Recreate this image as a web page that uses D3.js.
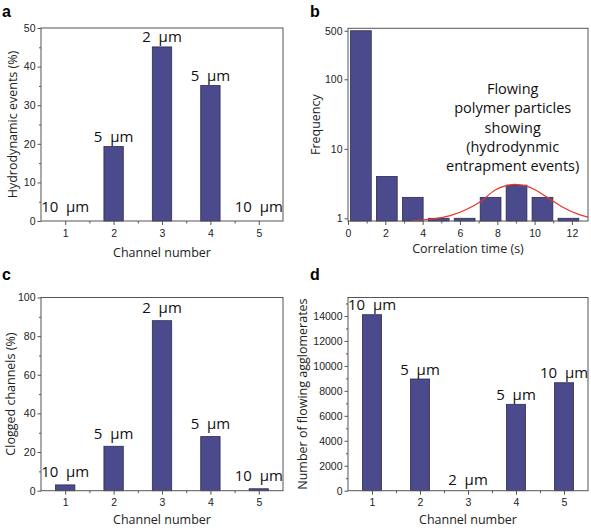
<!DOCTYPE html>
<html><head><meta charset="utf-8">
<script src="https://cdn.jsdelivr.net/npm/d3@7"></script>
<style>body{margin:0;background:#fff}</style>
</head><body><svg id="chart" width="591" height="528"></svg>
<script>
// ---------- data ----------
const channels = [1, 2, 3, 4, 5];
const hydroEvents = [0, 19.3, 45.1, 35.1, 0];
const hydroLabels = ["10  µm", "5  µm", "2  µm", "5  µm", "10  µm"];
const cloggedPct = [3, 23, 88, 28, 1];
const cloggedLabels = ["10  µm", "5  µm", "2  µm", "5  µm", "10  µm"];
const agglomerates = [14100, 8950, 0, 6920, 8650];
const aggLabels = ["10  µm", "5  µm", "2  µm", "5  µm", "10  µm"];
const corrBinCenters = [0.69, 2.08, 3.47, 4.86, 6.25, 7.64, 9.03, 10.42, 11.81];
const corrFreq = [500, 4, 2, 1, 1, 2, 3, 2, 1];
const fitX = [3.43, 4.41, 5.48, 6.37, 7.09, 7.89, 8.43, 8.96, 9.5, 10.0, 10.57, 11.46, 12.36, 12.98];
const fitY = [0.92, 0.97, 1.09, 1.35, 1.73, 2.55, 2.92, 3.08, 2.92, 2.6, 2.09, 1.47, 1.14, 1.02];
const ticksA = [0, 10, 20, 30, 40, 50];
const ticksC = [0, 20, 40, 60, 80, 100];
const ticksD = [0, 2000, 4000, 6000, 8000, 10000, 12000, 14000];
const ticksBy = [1, 10, 100, 500];
const ticksBx = [0, 2, 4, 6, 8, 10, 12];
const annotation = ["Flowing", "polymer particles", "showing", "(hydrodynmic", "entrapment events)"];

// ---------- style ----------
const BAR = "#4b4a8d", BAR_EDGE = "#2c2b52", AXIS = "#555", TXT = "#222";
const TICKFONT = "Liberation Sans, Arial, sans-serif";
const TITLEFONT = "Open Sans, sans-serif";
const svg = d3.select("#chart");
const keepSpaces = s => s.replace(/ /g, "\u00a0");

function frame(g, L, R, T, B) {
  g.append("rect").attr("x", L).attr("y", T).attr("width", R - L).attr("height", B - T)
    .attr("fill", "none").attr("stroke", AXIS).attr("stroke-width", 1);
}
function styleAxis(sel) {
  sel.select(".domain").remove();
  sel.selectAll("line").attr("stroke", AXIS);
  sel.selectAll("text").attr("fill", TXT).style("font-family", TICKFONT).style("font-size", "10.5px");
}
function axes(g, x, y, B, L, xt, xminor, yt, yminor, yfmt) {
  const ax = g.append("g").attr("transform", `translate(0,${B})`)
    .call(d3.axisBottom(x).tickValues(xt).tickSize(4).tickPadding(4.2).tickFormat(d3.format("d")));
  styleAxis(ax);
  const axm = g.append("g").attr("transform", `translate(0,${B})`)
    .call(d3.axisBottom(x).tickValues(xminor).tickSize(2.5).tickFormat(""));
  styleAxis(axm);
  const ay = g.append("g").attr("transform", `translate(${L},0)`)
    .call(d3.axisLeft(y).tickValues(yt).tickSize(3.5).tickPadding(2).tickFormat(yfmt || d3.format("d")));
  styleAxis(ay);
  if (yminor.length) {
    const aym = g.append("g").attr("transform", `translate(${L},0)`)
      .call(d3.axisLeft(y).tickValues(yminor).tickSize(2).tickFormat(""));
    styleAxis(aym);
  }
}
function titles(g, xt, xx, xy, yt, yx, yy, letter, lx, ly) {
  g.append("text").attr("x", xx).attr("y", xy).attr("text-anchor", "middle")
    .style("font-family", TITLEFONT).style("font-size", "12.5px").attr("fill", TXT).text(xt);
  g.append("text").attr("transform", `translate(${yx},${yy}) rotate(-90)`).attr("text-anchor", "middle")
    .style("font-family", TITLEFONT).style("font-size", "12.5px").attr("fill", TXT).text(yt);
  g.append("text").attr("x", lx).attr("y", ly)
    .style("font-family", TICKFONT).style("font-size", "16px").style("font-weight", "bold").attr("fill", "#000").text(letter);
}

function barPanel(cfg) {
  const g = svg.append("g");
  const x = d3.scaleLinear().domain([0.5, 5.5]).range([cfg.L, cfg.R]);
  const y = d3.scaleLinear().domain([0, cfg.ymax]).range([cfg.B, cfg.T]);
  const bw = x(1.4) - x(1);
  g.selectAll("rect.bar").data(cfg.values).join("rect").attr("class", "bar")
    .attr("x", (d, i) => x(channels[i]) - bw / 2).attr("width", bw)
    .attr("y", d => y(d)).attr("height", d => cfg.B - y(d))
    .attr("fill", BAR).attr("stroke", d => d > 0 ? BAR_EDGE : "none").attr("stroke-width", 0.8);
  g.selectAll("text.lab").data(cfg.values).join("text").attr("class", "lab")
    .attr("x", (d, i) => x(channels[i])).attr("y", d => y(d) - cfg.gap(d))
    .attr("text-anchor", "middle")
    .style("font-family", TITLEFONT).style("font-size", "15px").attr("fill", "#111")
    .text((d, i) => keepSpaces(cfg.labels[i]));
  frame(g, cfg.L, cfg.R, cfg.T, cfg.B);
  axes(g, x, y, cfg.B, cfg.L, channels, [1.5, 2.5, 3.5, 4.5], cfg.yticks, cfg.yminor);
  titles(g, "Channel number", (cfg.L + cfg.R) / 2, cfg.xtY, cfg.ytitle, cfg.ytX, (cfg.T + cfg.B) / 2, cfg.letter, cfg.lx, cfg.ly);
}

// panel a
barPanel({L: 41, R: 283, T: 28, B: 221, ymax: 50, values: hydroEvents, labels: hydroLabels,
  gap: d => d === 0 ? 9 : 4.5, yticks: ticksA, yminor: [5, 15, 25, 35, 45],
  ytitle: "Hydrodynamic events (%)", ytX: 17, xtY: 256.5, letter: "a", lx: 2, ly: 17});
// panel c
barPanel({L: 41, R: 283, T: 297.5, B: 490.7, ymax: 100, values: cloggedPct, labels: cloggedLabels,
  gap: d => 7.5, yticks: ticksC, yminor: [10, 30, 50, 70, 90],
  ytitle: "Clogged channels (%)", ytX: 14.5, xtY: 523.5, letter: "c", lx: 2, ly: 279.5});
// panel d
barPanel({L: 348, R: 588, T: 297.5, B: 490.7, ymax: 15480, values: agglomerates, labels: aggLabels,
  gap: d => d === 0 ? 5.7 : 4.3, yticks: ticksD, yminor: [1000, 3000, 5000, 7000, 9000, 11000, 13000, 15000],
  ytitle: "Number of flowing agglomerates", ytX: 307, xtY: 524, letter: "d", lx: 310, ly: 279.5});

// panel b
(function () {
  const L = 348, R = 588, T = 28.3, B = 221;
  const g = svg.append("g");
  const x = d3.scaleLinear().domain([0, 12.86]).range([L, R]);
  const y = d3.scaleLog().domain([0.914, 542]).range([B, T]);
  const binW = corrBinCenters[1] - corrBinCenters[0];
  const bw = x(binW * 0.8) - x(0);
  g.selectAll("rect.bar").data(corrFreq).join("rect").attr("class", "bar")
    .attr("x", (d, i) => x(corrBinCenters[i]) - bw / 2).attr("width", bw)
    .attr("y", d => y(d)).attr("height", d => B - y(d))
    .attr("fill", BAR).attr("stroke", BAR_EDGE).attr("stroke-width", 0.8);
  g.append("clipPath").attr("id", "clipb").append("rect")
    .attr("x", L).attr("y", T).attr("width", R - L).attr("height", B - T);
  const line = d3.line().x(d => x(d[0])).y(d => y(d[1])).curve(d3.curveMonotoneX);
  g.append("path").datum(fitX.map((v, i) => [v, fitY[i]])).attr("d", line)
    .attr("clip-path", "url(#clipb)").attr("fill", "none").attr("stroke", "#e8342a").attr("stroke-width", 1.2);
  frame(g, L, R, T, B);
  axes(g, x, y, B, L, ticksBx, [1, 3, 5, 7, 9, 11], ticksBy, [], d3.format("d"));
  titles(g, "Correlation time (s)", (L + R) / 2, 253, "Frequency", 319.5, (T + B) / 2, "b", 310, 17);
  const baselines = [94.3, 113.4, 132.5, 151.6, 170.7];
  g.selectAll("text.ann").data(annotation).join("text").attr("class", "ann")
    .attr("x", 512.7).attr("y", (d, i) => baselines[i]).attr("text-anchor", "middle")
    .style("font-family", TITLEFONT).style("font-size", "14.5px").attr("fill", "#111").text(d => d);
})();
</script></body></html>
